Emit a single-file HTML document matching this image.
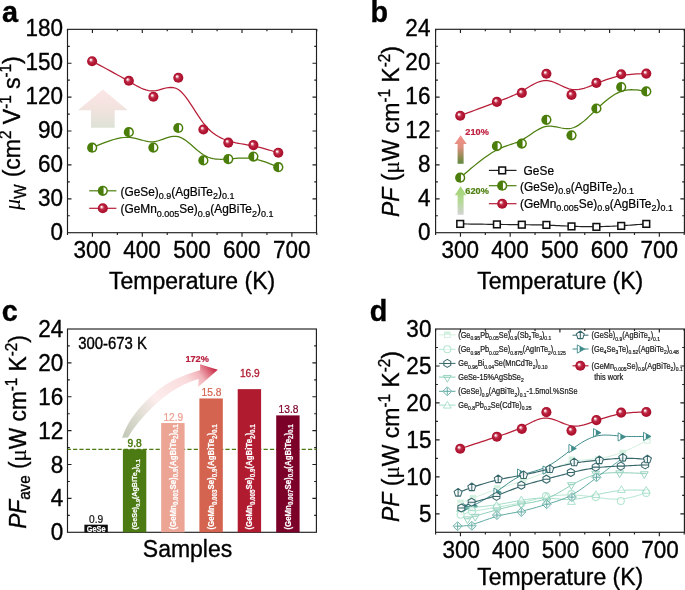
<!DOCTYPE html>
<html lang="en">
<head>
<meta charset="utf-8">
<title>Figure</title>
<style>
html, body { margin: 0; padding: 0; background: #ffffff; }
body { width: 685px; height: 590px; overflow: hidden; }
svg { display: block; font-family: "Liberation Sans", Arial, Helvetica, sans-serif; }
</style>
</head>
<body>
<svg width="685" height="590" viewBox="0 0 685 590">
<defs>
<radialGradient id="sph" cx="0.5" cy="0.5" r="0.5" fx="0.35" fy="0.34">
<stop offset="0" stop-color="#ffffff"/><stop offset="0.1" stop-color="#fdeef0"/><stop offset="0.24" stop-color="#e398a5"/><stop offset="0.42" stop-color="#bf2c48"/><stop offset="0.7" stop-color="#b21632"/><stop offset="1" stop-color="#a90f2c"/></radialGradient>
<linearGradient id="ga" x1="0" y1="0" x2="0" y2="1"><stop offset="0" stop-color="#fbe6e6"/><stop offset="0.45" stop-color="#f3e3df"/><stop offset="1" stop-color="#dee2d6"/></linearGradient>
<linearGradient id="gb1" x1="0" y1="0" x2="0" y2="1"><stop offset="0" stop-color="#f58f8a"/><stop offset="0.4" stop-color="#e0907f"/><stop offset="1" stop-color="#5d8a3a"/></linearGradient>
<linearGradient id="gb2" x1="0" y1="0" x2="0" y2="1"><stop offset="0" stop-color="#9fd36f"/><stop offset="0.5" stop-color="#b4da94"/><stop offset="1" stop-color="#d2d2d2"/></linearGradient>
<linearGradient id="gc" gradientUnits="userSpaceOnUse" x1="124" y1="438" x2="217" y2="369"><stop offset="0" stop-color="#c2c9b8"/><stop offset="0.2" stop-color="#dcdbd0"/><stop offset="0.42" stop-color="#fcedec"/><stop offset="0.74" stop-color="#fadbdd"/><stop offset="0.85" stop-color="#f1b5bb"/><stop offset="0.93" stop-color="#dc6678"/><stop offset="1" stop-color="#c01d3a"/></linearGradient>
</defs>
<rect x="0" y="0" width="685" height="590" fill="#ffffff"/>
<rect x="67.5" y="29.35" width="249" height="203.35" fill="none" stroke="#1f1f1f" stroke-width="1.15"/>
<path d="M92.43 232.7 v4.0 M92.43 29.35 v3.6 M142.29 232.7 v4.0 M142.29 29.35 v3.6 M192.15 232.7 v4.0 M192.15 29.35 v3.6 M242.01 232.7 v4.0 M242.01 29.35 v3.6 M291.87 232.7 v4.0 M291.87 29.35 v3.6 M67.5 232.7 v2.2 M67.5 29.35 v2.0 M117.36 232.7 v2.2 M117.36 29.35 v2.0 M167.22 232.7 v2.2 M167.22 29.35 v2.0 M217.08 232.7 v2.2 M217.08 29.35 v2.0 M266.94 232.7 v2.2 M266.94 29.35 v2.0 M316.8 232.7 v2.2 M316.8 29.35 v2.0 M67.5 198.81 h4.0 M316.5 198.81 h-4.0 M67.5 164.92 h4.0 M316.5 164.92 h-4.0 M67.5 131.02 h4.0 M316.5 131.02 h-4.0 M67.5 97.13 h4.0 M316.5 97.13 h-4.0 M67.5 63.24 h4.0 M316.5 63.24 h-4.0 M67.5 215.75 h2.3 M316.5 215.75 h-2.2 M67.5 181.86 h2.3 M316.5 181.86 h-2.2 M67.5 147.97 h2.3 M316.5 147.97 h-2.2 M67.5 114.08 h2.3 M316.5 114.08 h-2.2 M67.5 80.19 h2.3 M316.5 80.19 h-2.2 M67.5 46.3 h2.3 M316.5 46.3 h-2.2" fill="none" stroke="#1f1f1f" stroke-width="1.15"/>
<text transform="translate(63.1 239.7) scale(1 1.03)" font-size="22.5" text-anchor="end" stroke="#000" stroke-width="0.35" >0</text>
<text transform="translate(63.1 205.81) scale(1 1.03)" font-size="22.5" text-anchor="end" stroke="#000" stroke-width="0.35" >30</text>
<text transform="translate(63.1 171.92) scale(1 1.03)" font-size="22.5" text-anchor="end" stroke="#000" stroke-width="0.35" >60</text>
<text transform="translate(63.1 138.02) scale(1 1.03)" font-size="22.5" text-anchor="end" stroke="#000" stroke-width="0.35" >90</text>
<text transform="translate(63.1 104.13) scale(1 1.03)" font-size="22.5" text-anchor="end" stroke="#000" stroke-width="0.35" >120</text>
<text transform="translate(63.1 70.24) scale(1 1.03)" font-size="22.5" text-anchor="end" stroke="#000" stroke-width="0.35" >150</text>
<text transform="translate(63.1 36.35) scale(1 1.03)" font-size="22.5" text-anchor="end" stroke="#000" stroke-width="0.35" >180</text>
<text transform="translate(92.23 257.5) scale(1 1.03)" font-size="22.5" text-anchor="middle" stroke="#000" stroke-width="0.35" >300</text>
<text transform="translate(142.09 257.5) scale(1 1.03)" font-size="22.5" text-anchor="middle" stroke="#000" stroke-width="0.35" >400</text>
<text transform="translate(191.95 257.5) scale(1 1.03)" font-size="22.5" text-anchor="middle" stroke="#000" stroke-width="0.35" >500</text>
<text transform="translate(241.81 257.5) scale(1 1.03)" font-size="22.5" text-anchor="middle" stroke="#000" stroke-width="0.35" >600</text>
<text transform="translate(291.67 257.5) scale(1 1.03)" font-size="22.5" text-anchor="middle" stroke="#000" stroke-width="0.35" >700</text>
<text transform="translate(192.1 289.4) scale(1 1.03)" font-size="23.0" text-anchor="middle" stroke="#000" stroke-width="0.35" >Temperature (K)</text>
<text transform="translate(20.2 133.1) rotate(-90) scale(1 1.03)" font-size="23.0" text-anchor="middle" stroke="#000" stroke-width="0.35" ><tspan font-style="italic" font-family='"Liberation Serif", "DejaVu Serif", serif' font-size="22" stroke="none">&#956;</tspan><tspan font-size="15.2" dy="5.4">W</tspan><tspan dy="-5.4" dx="0.8"> (cm</tspan><tspan font-size="15.2" dy="-8.5">2</tspan><tspan dy="8.5"> V</tspan><tspan font-size="15.2" dy="-8.5">-1</tspan><tspan dy="8.5"> s</tspan><tspan font-size="15.2" dy="-8.5">-1</tspan><tspan dy="8.5">)</tspan></text>
<text transform="translate(1.9 21.7) scale(1 1.03)" font-size="28.8" font-weight="bold" stroke="#000" stroke-width="0.35" >a</text>
<path d="M102.9 89.6 L127.8 110.3 L114.7 110.3 L114.7 127.8 L91 127.8 L91 110.3 L78 110.3 Z" fill="url(#ga)"/>
<path d="M92.2 147.7 L95.86 146.16 L99.51 144.64 L103.14 143.19 L106.73 141.83 L110.27 140.59 L113.75 139.51 L117.16 138.62 L120.49 137.94 L123.71 137.5 L126.83 137.35 L129.83 137.49 L132.73 137.87 L135.52 138.43 L138.24 139.1 L140.88 139.81 L143.46 140.51 L146 141.12 L148.5 141.57 L150.99 141.81 L153.46 141.77 L155.93 141.4 L158.41 140.76 L160.89 139.95 L163.37 139.05 L165.86 138.15 L168.35 137.34 L170.84 136.7 L173.34 136.31 L175.83 136.27 L178.33 136.67 L180.83 137.55 L183.34 138.87 L185.84 140.54 L188.35 142.47 L190.85 144.58 L193.35 146.78 L195.86 148.99 L198.36 151.11 L200.87 153.07 L203.37 154.78 L205.87 156.18 L208.36 157.26 L210.86 158.08 L213.35 158.65 L215.85 159.02 L218.35 159.22 L220.84 159.27 L223.34 159.21 L225.83 159.08 L228.33 158.9 L230.83 158.71 L233.34 158.52 L235.84 158.34 L238.35 158.2 L240.85 158.1 L243.35 158.06 L245.86 158.09 L248.36 158.22 L250.87 158.44 L253.37 158.78 L255.87 159.25 L258.36 159.84 L260.86 160.53 L263.35 161.31 L265.85 162.17 L268.34 163.1 L270.83 164.08 L273.32 165.1 L275.81 166.14 L278.3 167.2" fill="none" stroke="#4d7f0e" stroke-width="1.25"/>
<circle cx="92.2" cy="147.7" r="5.1" fill="#4a7d0a"/>
<path d="M92.95 144.18 A3.6 3.6 0 0 1 92.95 151.22 Z" fill="#fff"/>
<circle cx="128.85" cy="132.2" r="5.1" fill="#4a7d0a"/>
<path d="M129.6 128.68 A3.6 3.6 0 0 1 129.6 135.72 Z" fill="#fff"/>
<circle cx="153.4" cy="147.6" r="5.1" fill="#4a7d0a"/>
<path d="M154.15 144.08 A3.6 3.6 0 0 1 154.15 151.12 Z" fill="#fff"/>
<circle cx="178.3" cy="128" r="5.1" fill="#4a7d0a"/>
<path d="M179.05 124.48 A3.6 3.6 0 0 1 179.05 131.52 Z" fill="#fff"/>
<circle cx="203.4" cy="160.4" r="5.1" fill="#4a7d0a"/>
<path d="M204.15 156.88 A3.6 3.6 0 0 1 204.15 163.92 Z" fill="#fff"/>
<circle cx="228.3" cy="159.1" r="5.1" fill="#4a7d0a"/>
<path d="M229.05 155.58 A3.6 3.6 0 0 1 229.05 162.62 Z" fill="#fff"/>
<circle cx="253.4" cy="156.6" r="5.1" fill="#4a7d0a"/>
<path d="M254.15 153.08 A3.6 3.6 0 0 1 254.15 160.12 Z" fill="#fff"/>
<circle cx="278.3" cy="167.2" r="5.1" fill="#4a7d0a"/>
<path d="M279.05 163.68 A3.6 3.6 0 0 1 279.05 170.72 Z" fill="#fff"/>
<path d="M92.1 61.2 L95.77 63.16 L99.43 65.12 L103.07 67.06 L106.67 69 L110.22 70.92 L113.71 72.83 L117.13 74.71 L120.46 76.56 L123.69 78.39 L126.82 80.18 L129.82 81.93 L132.72 83.62 L135.52 85.2 L138.23 86.66 L140.88 87.95 L143.46 89.05 L146 89.92 L148.5 90.55 L150.99 90.88 L153.46 90.9 L155.93 90.59 L158.41 90.04 L160.89 89.36 L163.37 88.64 L165.86 88 L168.35 87.53 L170.84 87.35 L173.34 87.56 L175.83 88.26 L178.33 89.57 L180.83 91.54 L183.34 94.11 L185.84 97.17 L188.35 100.61 L190.85 104.32 L193.35 108.18 L195.86 112.1 L198.36 115.96 L200.87 119.65 L203.37 123.07 L205.87 126.12 L208.36 128.81 L210.86 131.18 L213.35 133.24 L215.85 135.03 L218.35 136.57 L220.84 137.89 L223.34 139.02 L225.83 140 L228.33 140.83 L230.83 141.56 L233.34 142.2 L235.84 142.77 L238.35 143.27 L240.85 143.74 L243.35 144.17 L245.86 144.6 L248.36 145.03 L250.87 145.48 L253.37 145.97 L255.87 146.5 L258.36 147.08 L260.86 147.71 L263.35 148.37 L265.85 149.06 L268.34 149.78 L270.83 150.51 L273.32 151.27 L275.81 152.03 L278.3 152.8" fill="none" stroke="#b71e38" stroke-width="1.25"/>
<circle cx="92.1" cy="61.2" r="5.05" fill="url(#sph)"/>
<circle cx="128.85" cy="80.8" r="5.05" fill="url(#sph)"/>
<circle cx="153.4" cy="96.7" r="5.05" fill="url(#sph)"/>
<circle cx="178.3" cy="77.8" r="5.05" fill="url(#sph)"/>
<circle cx="203.4" cy="129.5" r="5.05" fill="url(#sph)"/>
<circle cx="228.3" cy="142.6" r="5.05" fill="url(#sph)"/>
<circle cx="253.4" cy="145.1" r="5.05" fill="url(#sph)"/>
<circle cx="278.3" cy="152.8" r="5.05" fill="url(#sph)"/>
<line x1="89.2" y1="190.8" x2="116.4" y2="190.8" stroke="#4d7f0e" stroke-width="1.2" />
<circle cx="102.8" cy="190.8" r="5.1" fill="#4a7d0a"/>
<path d="M103.55 187.28 A3.6 3.6 0 0 1 103.55 194.32 Z" fill="#fff"/>
<line x1="89.2" y1="208.3" x2="116.4" y2="208.3" stroke="#b71e38" stroke-width="1.2" />
<circle cx="102.8" cy="208.3" r="5.05" fill="url(#sph)"/>
<text transform="translate(120.5 195.5) scale(1 1.03)" font-size="11.9" stroke="#000" stroke-width="0.21" >(GeSe)<tspan font-size="9.0" dy="3.3">0.9</tspan><tspan dy="-3.3">(AgBiTe</tspan><tspan font-size="9.0" dy="3.3">2</tspan><tspan dy="-3.3">)</tspan><tspan font-size="9.0" dy="3.3">0.1</tspan></text>
<text transform="translate(120.5 213.1) scale(1 1.03)" font-size="11.9" stroke="#000" stroke-width="0.21" >(GeMn<tspan font-size="9.0" dy="3.3">0.005</tspan><tspan dy="-3.3">Se)</tspan><tspan font-size="9.0" dy="3.3">0.9</tspan><tspan dy="-3.3">(AgBiTe</tspan><tspan font-size="9.0" dy="3.3">2</tspan><tspan dy="-3.3">)</tspan><tspan font-size="9.0" dy="3.3">0.1</tspan></text>
<rect x="435.6" y="29.3" width="248.8" height="203.4" fill="none" stroke="#1f1f1f" stroke-width="1.15"/>
<path d="M460.46 232.7 v4.0 M460.46 29.3 v3.6 M510.18 232.7 v4.0 M510.18 29.3 v3.6 M559.9 232.7 v4.0 M559.9 29.3 v3.6 M609.62 232.7 v4.0 M609.62 29.3 v3.6 M659.34 232.7 v4.0 M659.34 29.3 v3.6 M435.6 232.7 v2.2 M435.6 29.3 v2.0 M485.32 232.7 v2.2 M485.32 29.3 v2.0 M535.04 232.7 v2.2 M535.04 29.3 v2.0 M584.76 232.7 v2.2 M584.76 29.3 v2.0 M634.48 232.7 v2.2 M634.48 29.3 v2.0 M684.2 232.7 v2.2 M684.2 29.3 v2.0 M435.6 198.8 h4.0 M684.4 198.8 h-4.0 M435.6 164.9 h4.0 M684.4 164.9 h-4.0 M435.6 131 h4.0 M684.4 131 h-4.0 M435.6 97.1 h4.0 M684.4 97.1 h-4.0 M435.6 63.2 h4.0 M684.4 63.2 h-4.0 M435.6 215.75 h2.3 M684.4 215.75 h-2.2 M435.6 181.85 h2.3 M684.4 181.85 h-2.2 M435.6 147.95 h2.3 M684.4 147.95 h-2.2 M435.6 114.05 h2.3 M684.4 114.05 h-2.2 M435.6 80.15 h2.3 M684.4 80.15 h-2.2 M435.6 46.25 h2.3 M684.4 46.25 h-2.2" fill="none" stroke="#1f1f1f" stroke-width="1.15"/>
<text transform="translate(430.4 239.7) scale(1 1.03)" font-size="22.5" text-anchor="end" stroke="#000" stroke-width="0.35" >0</text>
<text transform="translate(430.4 205.8) scale(1 1.03)" font-size="22.5" text-anchor="end" stroke="#000" stroke-width="0.35" >4</text>
<text transform="translate(430.4 171.9) scale(1 1.03)" font-size="22.5" text-anchor="end" stroke="#000" stroke-width="0.35" >8</text>
<text transform="translate(430.4 138) scale(1 1.03)" font-size="22.5" text-anchor="end" stroke="#000" stroke-width="0.35" >12</text>
<text transform="translate(430.4 104.1) scale(1 1.03)" font-size="22.5" text-anchor="end" stroke="#000" stroke-width="0.35" >16</text>
<text transform="translate(430.4 70.2) scale(1 1.03)" font-size="22.5" text-anchor="end" stroke="#000" stroke-width="0.35" >20</text>
<text transform="translate(430.4 36.3) scale(1 1.03)" font-size="22.5" text-anchor="end" stroke="#000" stroke-width="0.35" >24</text>
<text transform="translate(460.26 257.5) scale(1 1.03)" font-size="22.5" text-anchor="middle" stroke="#000" stroke-width="0.35" >300</text>
<text transform="translate(509.98 257.5) scale(1 1.03)" font-size="22.5" text-anchor="middle" stroke="#000" stroke-width="0.35" >400</text>
<text transform="translate(559.7 257.5) scale(1 1.03)" font-size="22.5" text-anchor="middle" stroke="#000" stroke-width="0.35" >500</text>
<text transform="translate(609.42 257.5) scale(1 1.03)" font-size="22.5" text-anchor="middle" stroke="#000" stroke-width="0.35" >600</text>
<text transform="translate(659.14 257.5) scale(1 1.03)" font-size="22.5" text-anchor="middle" stroke="#000" stroke-width="0.35" >700</text>
<text transform="translate(560.2 289.4) scale(1 1.03)" font-size="23.0" text-anchor="middle" stroke="#000" stroke-width="0.35" >Temperature (K)</text>
<text transform="translate(399 131.6) rotate(-90) scale(1 1.03)" font-size="23.0" text-anchor="middle" stroke="#000" stroke-width="0.35" ><tspan font-style="italic">PF</tspan> (<tspan font-family='"Liberation Serif", "DejaVu Serif", serif' font-size="23" stroke-width="0.15">&#956;</tspan>W cm<tspan font-size="15.2" dy="-8.5">-1</tspan><tspan dy="8.5"> K</tspan><tspan font-size="15.2" dy="-8.5">-2</tspan><tspan dy="8.5">)</tspan></text>
<text transform="translate(370.4 21.7) scale(1 1.03)" font-size="28.8" font-weight="bold" stroke="#000" stroke-width="0.35" >b</text>
<path d="M460.6 135.3 L466.7 144 L463.6 144 L463.6 163.8 L457.6 163.8 L457.6 144 L454.5 144 Z" fill="url(#gb1)"/>
<path d="M460.6 186.2 L466.4 195.2 L463.6 195.2 L463.6 214.7 L457.6 214.7 L457.6 195.2 L454.8 195.2 Z" fill="url(#gb2)"/>
<text transform="translate(465.3 135.4) scale(1 1.03)" font-size="9.2" fill="#c0203f" font-weight="bold" stroke="#c0203f" stroke-width="0.21" >210%</text>
<text transform="translate(465.3 194) scale(1 1.03)" font-size="9.2" fill="#4f8012" font-weight="bold" stroke="#4f8012" stroke-width="0.21" >620%</text>
<path d="M460.2 223.9 L463.87 223.95 L467.52 224 L471.16 224.05 L474.75 224.1 L478.3 224.15 L481.8 224.19 L485.22 224.24 L488.55 224.28 L491.8 224.33 L494.93 224.37 L497.96 224.41 L500.87 224.44 L503.69 224.48 L506.43 224.51 L509.1 224.54 L511.7 224.57 L514.26 224.6 L516.78 224.63 L519.27 224.66 L521.75 224.68 L524.22 224.71 L526.7 224.73 L529.17 224.76 L531.63 224.79 L534.1 224.83 L536.57 224.87 L539.05 224.91 L541.52 224.97 L544 225.04 L546.48 225.12 L548.97 225.21 L551.46 225.31 L553.96 225.42 L556.46 225.54 L558.96 225.66 L561.46 225.78 L563.96 225.9 L566.46 226.02 L568.97 226.13 L571.47 226.23 L573.97 226.33 L576.46 226.41 L578.96 226.49 L581.45 226.55 L583.94 226.6 L586.43 226.64 L588.92 226.66 L591.41 226.67 L593.9 226.67 L596.38 226.65 L598.87 226.62 L601.35 226.57 L603.84 226.51 L606.32 226.44 L608.8 226.35 L611.29 226.25 L613.78 226.14 L616.27 226.01 L618.76 225.88 L621.25 225.73 L623.75 225.58 L626.25 225.41 L628.75 225.24 L631.25 225.06 L633.76 224.88 L636.26 224.69 L638.77 224.5 L641.28 224.3 L643.79 224.1 L646.3 223.9" fill="none" stroke="#222" stroke-width="1.2"/>
<rect x="456.85" y="220.55" width="6.7" height="6.7" fill="#fff" stroke="#111" stroke-width="1.55"/>
<rect x="493.55" y="221.05" width="6.7" height="6.7" fill="#fff" stroke="#111" stroke-width="1.55"/>
<rect x="518.45" y="221.35" width="6.7" height="6.7" fill="#fff" stroke="#111" stroke-width="1.55"/>
<rect x="543.05" y="221.55" width="6.7" height="6.7" fill="#fff" stroke="#111" stroke-width="1.55"/>
<rect x="568.15" y="223.05" width="6.7" height="6.7" fill="#fff" stroke="#111" stroke-width="1.55"/>
<rect x="593.05" y="223.55" width="6.7" height="6.7" fill="#fff" stroke="#111" stroke-width="1.55"/>
<rect x="617.85" y="222.55" width="6.7" height="6.7" fill="#fff" stroke="#111" stroke-width="1.55"/>
<rect x="642.95" y="220.55" width="6.7" height="6.7" fill="#fff" stroke="#111" stroke-width="1.55"/>
<path d="M460.2 177.7 L463.87 174.54 L467.52 171.42 L471.16 168.35 L474.75 165.37 L478.3 162.51 L481.8 159.79 L485.22 157.24 L488.55 154.9 L491.8 152.8 L494.93 150.95 L497.96 149.38 L500.87 148.05 L503.69 146.92 L506.43 145.92 L509.1 145.01 L511.7 144.14 L514.26 143.26 L516.78 142.32 L519.27 141.27 L521.75 140.05 L524.22 138.64 L526.7 137.07 L529.17 135.42 L531.63 133.73 L534.1 132.08 L536.57 130.51 L539.05 129.09 L541.52 127.89 L544 126.95 L546.48 126.35 L548.97 126.12 L551.46 126.2 L553.96 126.51 L556.46 126.96 L558.96 127.49 L561.46 128 L563.96 128.41 L566.46 128.64 L568.97 128.62 L571.47 128.25 L573.97 127.48 L576.46 126.34 L578.96 124.87 L581.45 123.11 L583.94 121.13 L586.43 118.96 L588.92 116.66 L591.41 114.26 L593.9 111.83 L596.38 109.4 L598.87 107.02 L601.35 104.72 L603.84 102.5 L606.32 100.41 L608.8 98.45 L611.29 96.64 L613.78 95.01 L616.27 93.58 L618.76 92.36 L621.25 91.38 L623.75 90.65 L626.25 90.15 L628.75 89.86 L631.25 89.75 L633.76 89.79 L636.26 89.95 L638.77 90.23 L641.28 90.57 L643.79 90.97 L646.3 91.4" fill="none" stroke="#4d7f0e" stroke-width="1.25"/>
<circle cx="460.2" cy="177.7" r="5.1" fill="#4a7d0a"/>
<path d="M460.95 174.18 A3.6 3.6 0 0 1 460.95 181.22 Z" fill="#fff"/>
<circle cx="496.9" cy="146.1" r="5.1" fill="#4a7d0a"/>
<path d="M497.65 142.58 A3.6 3.6 0 0 1 497.65 149.62 Z" fill="#fff"/>
<circle cx="521.8" cy="143.6" r="5.1" fill="#4a7d0a"/>
<path d="M522.55 140.08 A3.6 3.6 0 0 1 522.55 147.12 Z" fill="#fff"/>
<circle cx="546.4" cy="119.8" r="5.1" fill="#4a7d0a"/>
<path d="M547.15 116.28 A3.6 3.6 0 0 1 547.15 123.32 Z" fill="#fff"/>
<circle cx="571.5" cy="135.3" r="5.1" fill="#4a7d0a"/>
<path d="M572.25 131.78 A3.6 3.6 0 0 1 572.25 138.82 Z" fill="#fff"/>
<circle cx="596.4" cy="108.5" r="5.1" fill="#4a7d0a"/>
<path d="M597.15 104.98 A3.6 3.6 0 0 1 597.15 112.02 Z" fill="#fff"/>
<circle cx="621.2" cy="87.1" r="5.1" fill="#4a7d0a"/>
<path d="M621.95 83.58 A3.6 3.6 0 0 1 621.95 90.62 Z" fill="#fff"/>
<circle cx="646.3" cy="91.4" r="5.1" fill="#4a7d0a"/>
<path d="M647.05 87.88 A3.6 3.6 0 0 1 647.05 94.92 Z" fill="#fff"/>
<path d="M460.2 115.7 L463.87 114.32 L467.52 112.95 L471.16 111.58 L474.75 110.23 L478.3 108.9 L481.8 107.59 L485.22 106.31 L488.55 105.07 L491.8 103.86 L494.93 102.7 L497.96 101.58 L500.87 100.5 L503.69 99.43 L506.43 98.37 L509.1 97.29 L511.7 96.19 L514.26 95.04 L516.78 93.84 L519.27 92.57 L521.75 91.22 L524.22 89.77 L526.7 88.27 L529.17 86.77 L531.63 85.33 L534.1 83.98 L536.57 82.78 L539.05 81.78 L541.52 81.04 L544 80.59 L546.48 80.5 L548.97 80.79 L551.46 81.41 L553.96 82.28 L556.46 83.33 L558.96 84.5 L561.46 85.7 L563.96 86.86 L566.46 87.91 L568.97 88.78 L571.47 89.38 L573.97 89.68 L576.46 89.68 L578.96 89.42 L581.45 88.94 L583.94 88.28 L586.43 87.47 L588.92 86.55 L591.41 85.55 L593.9 84.51 L596.38 83.47 L598.87 82.45 L601.35 81.48 L603.84 80.55 L606.32 79.67 L608.8 78.84 L611.29 78.06 L613.78 77.35 L616.27 76.7 L618.76 76.12 L621.25 75.62 L623.75 75.19 L626.25 74.83 L628.75 74.54 L631.25 74.3 L633.76 74.11 L636.26 73.96 L638.77 73.85 L641.28 73.75 L643.79 73.67 L646.3 73.6" fill="none" stroke="#b71e38" stroke-width="1.25"/>
<circle cx="460.2" cy="115.7" r="5.05" fill="url(#sph)"/>
<circle cx="496.9" cy="101.9" r="5.05" fill="url(#sph)"/>
<circle cx="521.8" cy="92.9" r="5.05" fill="url(#sph)"/>
<circle cx="546.4" cy="73.8" r="5.05" fill="url(#sph)"/>
<circle cx="571.5" cy="94.9" r="5.05" fill="url(#sph)"/>
<circle cx="596.4" cy="82.9" r="5.05" fill="url(#sph)"/>
<circle cx="621.2" cy="74.3" r="5.05" fill="url(#sph)"/>
<circle cx="646.3" cy="73.6" r="5.05" fill="url(#sph)"/>
<line x1="488.9" y1="170.4" x2="516.5" y2="170.4" stroke="#222" stroke-width="1.2" />
<rect x="498.85" y="167.05" width="6.7" height="6.7" fill="#fff" stroke="#111" stroke-width="1.55"/>
<line x1="488.9" y1="185.7" x2="516.5" y2="185.7" stroke="#4d7f0e" stroke-width="1.2" />
<circle cx="502.2" cy="185.7" r="5.1" fill="#4a7d0a"/>
<path d="M502.95 182.18 A3.6 3.6 0 0 1 502.95 189.22 Z" fill="#fff"/>
<line x1="488.9" y1="203.7" x2="516.5" y2="203.7" stroke="#b71e38" stroke-width="1.2" />
<circle cx="502.2" cy="203.7" r="5.05" fill="url(#sph)"/>
<text transform="translate(523.6 175) scale(1 1.03)" font-size="11.9" stroke="#000" stroke-width="0.21" >GeSe</text>
<text transform="translate(520 190.6) scale(1 1.03)" font-size="11.9" stroke="#000" stroke-width="0.21" >(GeSe)<tspan font-size="9.0" dy="3.3">0.9</tspan><tspan dy="-3.3">(AgBiTe</tspan><tspan font-size="9.0" dy="3.3">2</tspan><tspan dy="-3.3">)</tspan><tspan font-size="9.0" dy="3.3">0.1</tspan></text>
<text transform="translate(520 208) scale(1 1.03)" font-size="11.9" stroke="#000" stroke-width="0.21" >(GeMn<tspan font-size="9.0" dy="3.3">0.005</tspan><tspan dy="-3.3">Se)</tspan><tspan font-size="9.0" dy="3.3">0.9</tspan><tspan dy="-3.3">(AgBiTe</tspan><tspan font-size="9.0" dy="3.3">2</tspan><tspan dy="-3.3">)</tspan><tspan font-size="9.0" dy="3.3">0.1</tspan></text>
<rect x="67.5" y="329" width="248.9" height="203.3" fill="none" stroke="#1f1f1f" stroke-width="1.15"/>
<path d="M67.5 498.42 h4.0 M316.4 498.42 h-4.0 M67.5 464.53 h4.0 M316.4 464.53 h-4.0 M67.5 430.65 h4.0 M316.4 430.65 h-4.0 M67.5 396.77 h4.0 M316.4 396.77 h-4.0 M67.5 362.88 h4.0 M316.4 362.88 h-4.0 M67.5 515.36 h2.3 M316.4 515.36 h-2.2 M67.5 481.47 h2.3 M316.4 481.47 h-2.2 M67.5 447.59 h2.3 M316.4 447.59 h-2.2 M67.5 413.71 h2.3 M316.4 413.71 h-2.2 M67.5 379.82 h2.3 M316.4 379.82 h-2.2 M67.5 345.94 h2.3 M316.4 345.94 h-2.2" fill="none" stroke="#1f1f1f" stroke-width="1.15"/>
<text transform="translate(63.2 540.3) scale(1 1.03)" font-size="22.5" text-anchor="end" stroke="#000" stroke-width="0.35" >0</text>
<text transform="translate(63.2 506.42) scale(1 1.03)" font-size="22.5" text-anchor="end" stroke="#000" stroke-width="0.35" >4</text>
<text transform="translate(63.2 472.53) scale(1 1.03)" font-size="22.5" text-anchor="end" stroke="#000" stroke-width="0.35" >8</text>
<text transform="translate(63.2 438.65) scale(1 1.03)" font-size="22.5" text-anchor="end" stroke="#000" stroke-width="0.35" >12</text>
<text transform="translate(63.2 404.77) scale(1 1.03)" font-size="22.5" text-anchor="end" stroke="#000" stroke-width="0.35" >16</text>
<text transform="translate(63.2 370.88) scale(1 1.03)" font-size="22.5" text-anchor="end" stroke="#000" stroke-width="0.35" >20</text>
<text transform="translate(63.2 337) scale(1 1.03)" font-size="22.5" text-anchor="end" stroke="#000" stroke-width="0.35" >24</text>
<text transform="translate(25.6 432) rotate(-90) scale(1 1.03)" font-size="22.7" text-anchor="middle" stroke="#000" stroke-width="0.35" ><tspan font-style="italic">PF</tspan><tspan font-size="15.2" dy="4.3">ave</tspan><tspan dy="-4.3"> (</tspan><tspan font-family='"Liberation Serif", "DejaVu Serif", serif' font-size="23" stroke-width="0.15">&#956;</tspan>W cm<tspan font-size="15.2" dy="-8.5">-1</tspan><tspan dy="8.5"> K</tspan><tspan font-size="15.2" dy="-8.5">-2</tspan><tspan dy="8.5">)</tspan></text>
<text transform="translate(1.7 321.2) scale(1 1.03)" font-size="28.8" font-weight="bold" stroke="#000" stroke-width="0.35" >c</text>
<text transform="translate(187.5 556.8) scale(1 1.03)" font-size="23.0" text-anchor="middle" stroke="#000" stroke-width="0.35" >Samples</text>
<text transform="translate(78.2 349.1) scale(1 1.05)" font-size="14.9" stroke="#000" stroke-width="0.35" >300-673 K</text>
<path d="M122.2 437.7 L123.77 433.25 L125.62 428.96 L127.73 424.81 L130.07 420.81 L132.63 416.94 L135.38 413.19 L138.29 409.56 L141.35 406.04 L144.54 402.61 L147.82 399.28 L151.19 396.05 L154.66 392.93 L158.25 389.96 L161.96 387.17 L165.82 384.57 L169.81 382.18 L173.92 379.99 L178.13 377.97 L182.43 376.14 L186.79 374.46 L191.2 372.93 L195.65 371.55 L200.1 370.3 L200.1 364.3 L217.8 369.8 L198.2 387.1 L198.6 379 L194.72 380.23 L190.9 381.62 L187.14 383.17 L183.44 384.87 L179.81 386.72 L176.26 388.72 L172.8 390.85 L169.42 393.12 L166.14 395.51 L162.93 398.02 L159.8 400.62 L156.74 403.31 L153.74 406.06 L150.8 408.88 L147.93 411.77 L145.12 414.72 L142.4 417.73 L139.75 420.82 L137.2 423.99 L134.74 427.22 L132.39 430.54 L130.14 433.93 L128 437.4 Z" fill="url(#gc)"/>
<text transform="translate(185.4 361.5) scale(1 1.03)" font-size="9.2" fill="#b81c3c" font-weight="bold" stroke="#b81c3c" stroke-width="0.21" >172%</text>
<line x1="67.5" y1="449.4" x2="316.4" y2="449.4" stroke="#4a7a10" stroke-width="1.25" stroke-dasharray="4.2 2.15" stroke-dashoffset="0.8"/>
<rect x="84.4" y="524.68" width="23.4" height="7.62" fill="#0d0d0d"/>
<rect x="122.9" y="449.29" width="23.4" height="83.01" fill="#4b7b12"/>
<rect x="161.2" y="423.03" width="23.4" height="109.27" fill="#eca595"/>
<rect x="199.4" y="398.46" width="23.4" height="133.84" fill="#d4634f"/>
<rect x="237.7" y="389.14" width="23.4" height="143.16" fill="#b01b30"/>
<rect x="276.2" y="415.4" width="23.4" height="116.9" fill="#7c0129"/>
<text transform="translate(96.2 523.1) scale(1 1.03)" font-size="10.2" text-anchor="middle" fill="#111" stroke="#111" stroke-width="0.21" >0.9</text>
<text transform="translate(134.7 447) scale(1 1.03)" font-size="10.2" text-anchor="middle" fill="#4a7a10" stroke="#4a7a10" stroke-width="0.45" >9.8</text>
<text transform="translate(173.3 420.5) scale(1 1.03)" font-size="10.2" text-anchor="middle" fill="#eda091" stroke="#eda091" stroke-width="0.21" >12.9</text>
<text transform="translate(211.5 395.5) scale(1 1.03)" font-size="10.2" text-anchor="middle" fill="#d4634f" stroke="#d4634f" stroke-width="0.21" >15.8</text>
<text transform="translate(249.8 377.3) scale(1 1.03)" font-size="10.2" text-anchor="middle" fill="#b01b30" stroke="#b01b30" stroke-width="0.3" >16.9</text>
<text transform="translate(288.5 412.6) scale(1 1.03)" font-size="10.2" text-anchor="middle" fill="#7c0129" stroke="#7c0129" stroke-width="0.21" >13.8</text>
<text transform="translate(96.1 531.6) scale(1 1.2)" font-size="7.4" text-anchor="middle" fill="#fff" font-weight="bold" stroke="#fff" stroke-width="0.15" >GeSe</text>
<text transform="translate(137.4 529.6) rotate(-90) scale(1 1.12)" font-size="7.1" fill="#fff" font-weight="bold" stroke="#fff" stroke-width="0.2" >(GeSe)<tspan font-size="5.6" dy="2.2">0.9</tspan><tspan dy="-2.2">(AgBiTe</tspan><tspan font-size="5.6" dy="2.2">2</tspan><tspan dy="-2.2">)</tspan><tspan font-size="5.6" dy="2.2">0.1</tspan></text>
<text transform="translate(175.6 529.6) rotate(-90) scale(1 1.12)" font-size="7.9" fill="#fff" font-weight="bold" stroke="#fff" stroke-width="0.2" >(GeMn<tspan font-size="6.2" dy="2.5">0.001</tspan><tspan dy="-2.5">Se)</tspan><tspan font-size="6.2" dy="2.5">0.9</tspan><tspan dy="-2.5">(AgBiTe</tspan><tspan font-size="6.2" dy="2.5">2</tspan><tspan dy="-2.5">)</tspan><tspan font-size="6.2" dy="2.5">0.1</tspan></text>
<text transform="translate(213.8 529.6) rotate(-90) scale(1 1.12)" font-size="7.9" fill="#fff" font-weight="bold" stroke="#fff" stroke-width="0.2" >(GeMn<tspan font-size="6.2" dy="2.5">0.003</tspan><tspan dy="-2.5">Se)</tspan><tspan font-size="6.2" dy="2.5">0.9</tspan><tspan dy="-2.5">(AgBiTe</tspan><tspan font-size="6.2" dy="2.5">2</tspan><tspan dy="-2.5">)</tspan><tspan font-size="6.2" dy="2.5">0.1</tspan></text>
<text transform="translate(252.1 529.6) rotate(-90) scale(1 1.12)" font-size="7.9" fill="#fff" font-weight="bold" stroke="#fff" stroke-width="0.2" >(GeMn<tspan font-size="6.2" dy="2.5">0.005</tspan><tspan dy="-2.5">Se)</tspan><tspan font-size="6.2" dy="2.5">0.9</tspan><tspan dy="-2.5">(AgBiTe</tspan><tspan font-size="6.2" dy="2.5">2</tspan><tspan dy="-2.5">)</tspan><tspan font-size="6.2" dy="2.5">0.1</tspan></text>
<text transform="translate(290.6 529.6) rotate(-90) scale(1 1.12)" font-size="7.9" fill="#fff" font-weight="bold" stroke="#fff" stroke-width="0.2" >(GeMn<tspan font-size="6.2" dy="2.5">0.007</tspan><tspan dy="-2.5">Se)</tspan><tspan font-size="6.2" dy="2.5">0.9</tspan><tspan dy="-2.5">(AgBiTe</tspan><tspan font-size="6.2" dy="2.5">2</tspan><tspan dy="-2.5">)</tspan><tspan font-size="6.2" dy="2.5">0.1</tspan></text>
<rect x="435.6" y="329" width="248.8" height="203.3" fill="none" stroke="#1f1f1f" stroke-width="1.15"/>
<path d="M460.46 532.3 v4.0 M460.46 329 v3.6 M510.18 532.3 v4.0 M510.18 329 v3.6 M559.9 532.3 v4.0 M559.9 329 v3.6 M609.62 532.3 v4.0 M609.62 329 v3.6 M659.34 532.3 v4.0 M659.34 329 v3.6 M435.6 532.3 v2.2 M435.6 329 v2.0 M485.32 532.3 v2.2 M485.32 329 v2.0 M535.04 532.3 v2.2 M535.04 329 v2.0 M584.76 532.3 v2.2 M584.76 329 v2.0 M634.48 532.3 v2.2 M634.48 329 v2.0 M684.2 532.3 v2.2 M684.2 329 v2.0 M435.6 513.82 h4.0 M684.4 513.82 h-4.0 M435.6 476.85 h4.0 M684.4 476.85 h-4.0 M435.6 439.89 h4.0 M684.4 439.89 h-4.0 M435.6 402.93 h4.0 M684.4 402.93 h-4.0 M435.6 365.96 h4.0 M684.4 365.96 h-4.0 M435.6 495.34 h2.3 M684.4 495.34 h-2.2 M435.6 458.37 h2.3 M684.4 458.37 h-2.2 M435.6 421.41 h2.3 M684.4 421.41 h-2.2 M435.6 384.45 h2.3 M684.4 384.45 h-2.2 M435.6 347.48 h2.3 M684.4 347.48 h-2.2" fill="none" stroke="#1f1f1f" stroke-width="1.15"/>
<text transform="translate(431.4 521.82) scale(1 1.03)" font-size="22.5" text-anchor="end" stroke="#000" stroke-width="0.35" >5</text>
<text transform="translate(431.4 484.85) scale(1 1.03)" font-size="22.5" text-anchor="end" stroke="#000" stroke-width="0.35" >10</text>
<text transform="translate(431.4 447.89) scale(1 1.03)" font-size="22.5" text-anchor="end" stroke="#000" stroke-width="0.35" >15</text>
<text transform="translate(431.4 410.93) scale(1 1.03)" font-size="22.5" text-anchor="end" stroke="#000" stroke-width="0.35" >20</text>
<text transform="translate(431.4 373.96) scale(1 1.03)" font-size="22.5" text-anchor="end" stroke="#000" stroke-width="0.35" >25</text>
<text transform="translate(431.4 337) scale(1 1.03)" font-size="22.5" text-anchor="end" stroke="#000" stroke-width="0.35" >30</text>
<text transform="translate(461.16 558) scale(1 1.03)" font-size="22.5" text-anchor="middle" stroke="#000" stroke-width="0.35" >300</text>
<text transform="translate(510.88 558) scale(1 1.03)" font-size="22.5" text-anchor="middle" stroke="#000" stroke-width="0.35" >400</text>
<text transform="translate(560.6 558) scale(1 1.03)" font-size="22.5" text-anchor="middle" stroke="#000" stroke-width="0.35" >500</text>
<text transform="translate(610.32 558) scale(1 1.03)" font-size="22.5" text-anchor="middle" stroke="#000" stroke-width="0.35" >600</text>
<text transform="translate(660.04 558) scale(1 1.03)" font-size="22.5" text-anchor="middle" stroke="#000" stroke-width="0.35" >700</text>
<text transform="translate(560.2 584.9) scale(1 1.03)" font-size="23.0" text-anchor="middle" stroke="#000" stroke-width="0.35" >Temperature (K)</text>
<text transform="translate(399 436.6) rotate(-90) scale(1 1.03)" font-size="23.0" text-anchor="middle" stroke="#000" stroke-width="0.35" ><tspan font-style="italic">PF</tspan> (<tspan font-family='"Liberation Serif", "DejaVu Serif", serif' font-size="23" stroke-width="0.15">&#956;</tspan>W cm<tspan font-size="15.2" dy="-8.5">-1</tspan><tspan dy="8.5"> K</tspan><tspan font-size="15.2" dy="-8.5">-2</tspan><tspan dy="8.5">)</tspan></text>
<text transform="translate(369.8 320.9) scale(1 1.03)" font-size="28.8" font-weight="bold" stroke="#000" stroke-width="0.35" >d</text>
<path d="M460.6 502.9 L461.83 502.43 L463.08 501.95 L464.34 501.47 L465.65 500.97 L467 500.45 L468.41 499.9 L469.9 499.33 L471.46 498.72 L473.13 498.07 L474.9 497.38 L476.79 496.65 L478.79 495.86 L480.88 495.05 L483.07 494.21 L485.33 493.34 L487.66 492.47 L490.05 491.58 L492.48 490.7 L494.95 489.83 L497.45 488.97 L499.96 488.13 L502.49 487.3 L505.02 486.5 L507.57 485.69 L510.11 484.9 L512.67 484.1 L515.22 483.3 L517.77 482.49 L520.32 481.66 L522.87 480.82 L525.4 479.95 L527.93 479.06 L530.45 478.15 L532.96 477.22 L535.46 476.26 L537.95 475.28 L540.43 474.29 L542.91 473.27 L545.37 472.23 L547.82 471.17 L550.26 470.09 L552.69 469 L555.12 467.93 L557.55 466.87 L559.98 465.85 L562.43 464.87 L564.88 463.96 L567.35 463.12 L569.84 462.37 L572.35 461.72 L574.89 461.18 L577.45 460.73 L580.02 460.37 L582.61 460.07 L585.21 459.81 L587.81 459.58 L590.4 459.35 L592.99 459.12 L595.56 458.86 L598.12 458.55 L600.65 458.18 L603.16 457.75 L605.66 457.26 L608.14 456.71 L610.61 456.09 L613.07 455.41 L615.52 454.66 L617.96 453.85 L620.41 452.98 L622.85 452.05 L625.3 451.05 L627.75 450 L630.2 448.9 L632.65 447.75 L635.11 446.57 L637.56 445.35 L640.02 444.11 L642.48 442.85 L644.94 441.58 L647.4 440.3" fill="none" stroke="#d3f0df" stroke-width="1.0"/>
<rect x="457.8" y="500.1" width="5.6" height="5.6" fill="#fff" stroke="#d3f0df" stroke-width="1"/>
<rect x="457.8" y="500.1" width="5.6" height="2.8" fill="#d3f0df"/>
<rect x="470.1" y="495.4" width="5.6" height="5.6" fill="#fff" stroke="#d3f0df" stroke-width="1"/>
<rect x="470.1" y="495.4" width="5.6" height="2.8" fill="#d3f0df"/>
<rect x="494.4" y="485.8" width="5.6" height="5.6" fill="#fff" stroke="#d3f0df" stroke-width="1"/>
<rect x="494.4" y="485.8" width="5.6" height="2.8" fill="#d3f0df"/>
<rect x="520.2" y="478.4" width="5.6" height="5.6" fill="#fff" stroke="#d3f0df" stroke-width="1"/>
<rect x="520.2" y="478.4" width="5.6" height="2.8" fill="#d3f0df"/>
<rect x="545.2" y="468.7" width="5.6" height="5.6" fill="#fff" stroke="#d3f0df" stroke-width="1"/>
<rect x="545.2" y="468.7" width="5.6" height="2.8" fill="#d3f0df"/>
<rect x="569.1" y="457" width="5.6" height="5.6" fill="#fff" stroke="#d3f0df" stroke-width="1"/>
<rect x="569.1" y="457" width="5.6" height="2.8" fill="#d3f0df"/>
<rect x="595.7" y="456.8" width="5.6" height="5.6" fill="#fff" stroke="#d3f0df" stroke-width="1"/>
<rect x="595.7" y="456.8" width="5.6" height="2.8" fill="#d3f0df"/>
<rect x="620" y="450.3" width="5.6" height="5.6" fill="#fff" stroke="#d3f0df" stroke-width="1"/>
<rect x="620" y="450.3" width="5.6" height="2.8" fill="#d3f0df"/>
<rect x="644.6" y="437.5" width="5.6" height="5.6" fill="#fff" stroke="#d3f0df" stroke-width="1"/>
<rect x="644.6" y="437.5" width="5.6" height="2.8" fill="#d3f0df"/>
<path d="M465.7 507.5 L466.46 507.38 L467.24 507.24 L468.05 507.08 L468.91 506.88 L469.83 506.63 L470.84 506.32 L471.93 505.93 L473.15 505.45 L474.48 504.86 L475.97 504.17 L477.6 503.34 L479.39 502.4 L481.29 501.34 L483.32 500.18 L485.43 498.93 L487.63 497.58 L489.89 496.15 L492.2 494.64 L494.54 493.07 L496.9 491.43 L499.26 489.75 L501.62 488.04 L503.99 486.32 L506.36 484.61 L508.74 482.93 L511.13 481.31 L513.53 479.76 L515.94 478.32 L518.37 476.99 L520.82 475.8 L523.28 474.77 L525.76 473.86 L528.26 473.04 L530.77 472.28 L533.3 471.55 L535.83 470.8 L538.38 470.01 L540.94 469.13 L543.5 468.14 L546.07 467 L548.64 465.68 L551.21 464.2 L553.79 462.58 L556.36 460.85 L558.93 459.03 L561.5 457.15 L564.06 455.23 L566.61 453.29 L569.15 451.36 L571.68 449.47 L574.2 447.63 L576.71 445.86 L579.21 444.18 L581.69 442.6 L584.17 441.14 L586.65 439.8 L589.11 438.61 L591.58 437.57 L594.04 436.71 L596.5 436.03 L598.96 435.55 L601.42 435.24 L603.88 435.08 L606.35 435.05 L608.82 435.12 L611.29 435.26 L613.77 435.46 L616.25 435.69 L618.74 435.91 L621.23 436.12 L623.74 436.28 L626.25 436.4 L628.77 436.48 L631.29 436.53 L633.82 436.55 L636.35 436.55 L638.88 436.53 L641.42 436.49 L643.96 436.45 L646.5 436.4" fill="none" stroke="#3f8a8a" stroke-width="1.0"/>
<path d="M462.7 503.4 L470.1 507.5 L462.7 511.6 Z" fill="#fff" stroke="#3f8a8a" stroke-width="0.9"/>
<path d="M465 504.67 L470.1 507.5 L465 510.33 Z" fill="#3f8a8a"/>
<path d="M470.3 502.2 L477.7 506.3 L470.3 510.4 Z" fill="#fff" stroke="#3f8a8a" stroke-width="0.9"/>
<path d="M472.6 503.47 L477.7 506.3 L472.6 509.13 Z" fill="#3f8a8a"/>
<path d="M493.9 488.2 L501.3 492.3 L493.9 496.4 Z" fill="#fff" stroke="#3f8a8a" stroke-width="0.9"/>
<path d="M496.2 489.47 L501.3 492.3 L496.2 495.13 Z" fill="#3f8a8a"/>
<path d="M517.5 469 L524.9 473.1 L517.5 477.2 Z" fill="#fff" stroke="#3f8a8a" stroke-width="0.9"/>
<path d="M519.8 470.27 L524.9 473.1 L519.8 475.93 Z" fill="#3f8a8a"/>
<path d="M543 466 L550.4 470.1 L543 474.2 Z" fill="#fff" stroke="#3f8a8a" stroke-width="0.9"/>
<path d="M545.3 467.27 L550.4 470.1 L545.3 472.93 Z" fill="#3f8a8a"/>
<path d="M568.9 444.4 L576.3 448.5 L568.9 452.6 Z" fill="#fff" stroke="#3f8a8a" stroke-width="0.9"/>
<path d="M571.2 445.67 L576.3 448.5 L571.2 451.33 Z" fill="#3f8a8a"/>
<path d="M593.5 428.6 L600.9 432.7 L593.5 436.8 Z" fill="#fff" stroke="#3f8a8a" stroke-width="0.9"/>
<path d="M595.8 429.87 L600.9 432.7 L595.8 435.53 Z" fill="#3f8a8a"/>
<path d="M618.1 432.8 L625.5 436.9 L618.1 441 Z" fill="#fff" stroke="#3f8a8a" stroke-width="0.9"/>
<path d="M620.4 434.07 L625.5 436.9 L620.4 439.73 Z" fill="#3f8a8a"/>
<path d="M643.5 432.3 L650.9 436.4 L643.5 440.5 Z" fill="#fff" stroke="#3f8a8a" stroke-width="0.9"/>
<path d="M645.8 433.57 L650.9 436.4 L645.8 439.23 Z" fill="#3f8a8a"/>
<path d="M460.6 514.7 L461.74 514.38 L462.9 514.06 L464.08 513.74 L465.31 513.41 L466.58 513.08 L467.93 512.74 L469.36 512.4 L470.88 512.05 L472.51 511.69 L474.27 511.32 L476.15 510.94 L478.16 510.55 L480.28 510.15 L482.48 509.74 L484.77 509.33 L487.13 508.92 L489.53 508.5 L491.98 508.08 L494.44 507.67 L496.92 507.25 L499.39 506.84 L501.86 506.42 L504.32 506 L506.78 505.58 L509.24 505.14 L511.69 504.69 L514.15 504.22 L516.6 503.74 L519.05 503.22 L521.5 502.68 L523.95 502.11 L526.4 501.52 L528.85 500.92 L531.31 500.3 L533.77 499.69 L536.23 499.09 L538.7 498.51 L541.18 497.95 L543.66 497.43 L546.15 496.95 L548.65 496.52 L551.16 496.14 L553.67 495.81 L556.18 495.54 L558.7 495.31 L561.21 495.13 L563.72 495.01 L566.23 494.93 L568.73 494.91 L571.22 494.93 L573.7 495.01 L576.17 495.13 L578.63 495.29 L581.09 495.49 L583.54 495.72 L586 495.99 L588.45 496.27 L590.91 496.58 L593.37 496.91 L595.83 497.25 L598.31 497.6 L600.79 497.94 L603.28 498.27 L605.77 498.56 L608.27 498.82 L610.78 499.02 L613.29 499.15 L615.81 499.2 L618.33 499.15 L620.85 499 L623.38 498.73 L625.91 498.36 L628.44 497.88 L630.97 497.33 L633.51 496.7 L636.04 496.01 L638.58 495.28 L641.12 494.5 L643.66 493.71 L646.2 492.9" fill="none" stroke="#b5e7d0" stroke-width="1.0"/>
<circle cx="460.6" cy="514.7" r="3.5" fill="#fff" fill-opacity="0.6" stroke="#b5e7d0" stroke-width="1.1"/>
<circle cx="472" cy="511.5" r="3.5" fill="#fff" fill-opacity="0.6" stroke="#b5e7d0" stroke-width="1.1"/>
<circle cx="497" cy="507.2" r="3.5" fill="#fff" fill-opacity="0.6" stroke="#b5e7d0" stroke-width="1.1"/>
<circle cx="521.5" cy="503.2" r="3.5" fill="#fff" fill-opacity="0.6" stroke="#b5e7d0" stroke-width="1.1"/>
<circle cx="546" cy="496.1" r="3.5" fill="#fff" fill-opacity="0.6" stroke="#b5e7d0" stroke-width="1.1"/>
<circle cx="571.4" cy="494.1" r="3.5" fill="#fff" fill-opacity="0.6" stroke="#b5e7d0" stroke-width="1.1"/>
<circle cx="595.7" cy="497.1" r="3.5" fill="#fff" fill-opacity="0.6" stroke="#b5e7d0" stroke-width="1.1"/>
<circle cx="620.8" cy="501" r="3.5" fill="#fff" fill-opacity="0.6" stroke="#b5e7d0" stroke-width="1.1"/>
<circle cx="646.2" cy="492.9" r="3.5" fill="#fff" fill-opacity="0.6" stroke="#b5e7d0" stroke-width="1.1"/>
<path d="M460.5 508.5 L461.65 508.4 L462.82 508.3 L464.01 508.19 L465.24 508.09 L466.52 507.98 L467.87 507.86 L469.29 507.73 L470.81 507.6 L472.43 507.45 L474.17 507.3 L476.03 507.13 L478.01 506.95 L480.09 506.76 L482.27 506.54 L484.53 506.31 L486.85 506.05 L489.23 505.77 L491.64 505.47 L494.09 505.13 L496.55 504.77 L499.02 504.37 L501.49 503.95 L503.96 503.51 L506.43 503.05 L508.91 502.58 L511.39 502.11 L513.88 501.64 L516.37 501.17 L518.86 500.72 L521.35 500.28 L523.85 499.87 L526.35 499.49 L528.85 499.14 L531.35 498.82 L533.85 498.56 L536.36 498.34 L538.87 498.18 L541.37 498.08 L543.88 498.05 L546.38 498.08 L548.89 498.19 L551.39 498.36 L553.89 498.57 L556.39 498.8 L558.89 499.02 L561.38 499.23 L563.88 499.4 L566.37 499.52 L568.85 499.56 L571.33 499.5 L573.81 499.34 L576.29 499.07 L578.76 498.72 L581.23 498.29 L583.71 497.8 L586.18 497.26 L588.66 496.69 L591.15 496.09 L593.64 495.48 L596.13 494.88 L598.64 494.3 L601.15 493.73 L603.66 493.19 L606.18 492.68 L608.7 492.21 L611.23 491.77 L613.75 491.37 L616.27 491.03 L618.79 490.73 L621.3 490.48 L623.81 490.3 L626.31 490.16 L628.81 490.08 L631.3 490.03 L633.79 490.02 L636.27 490.04 L638.76 490.09 L641.24 490.15 L643.72 490.22 L646.2 490.3" fill="none" stroke="#a3dec8" stroke-width="1.0"/>
<path d="M460.5 504.7 L464.4 511.45 L456.6 511.45 Z" fill="#fff" fill-opacity="0.6" stroke="#a3dec8" stroke-width="0.9"/>
<path d="M472 503.7 L475.9 510.45 L468.1 510.45 Z" fill="#fff" fill-opacity="0.6" stroke="#a3dec8" stroke-width="0.9"/>
<path d="M496.5 501.5 L500.4 508.25 L492.6 508.25 Z" fill="#fff" fill-opacity="0.6" stroke="#a3dec8" stroke-width="0.9"/>
<path d="M521.3 496.1 L525.2 502.85 L517.4 502.85 Z" fill="#fff" fill-opacity="0.6" stroke="#a3dec8" stroke-width="0.9"/>
<path d="M546.4 493 L550.3 499.75 L542.5 499.75 Z" fill="#fff" fill-opacity="0.6" stroke="#a3dec8" stroke-width="0.9"/>
<path d="M571.4 497.6 L575.3 504.35 L567.5 504.35 Z" fill="#fff" fill-opacity="0.6" stroke="#a3dec8" stroke-width="0.9"/>
<path d="M596 490.8 L599.9 497.55 L592.1 497.55 Z" fill="#fff" fill-opacity="0.6" stroke="#a3dec8" stroke-width="0.9"/>
<path d="M621.4 485.7 L625.3 492.45 L617.5 492.45 Z" fill="#fff" fill-opacity="0.6" stroke="#a3dec8" stroke-width="0.9"/>
<path d="M646.2 486.5 L650.1 493.25 L642.3 493.25 Z" fill="#fff" fill-opacity="0.6" stroke="#a3dec8" stroke-width="0.9"/>
<path d="M467.5 518.6 L468.27 518.34 L469.06 518.08 L469.87 517.8 L470.73 517.52 L471.65 517.22 L472.63 516.91 L473.71 516.57 L474.88 516.2 L476.17 515.81 L477.58 515.38 L479.14 514.92 L480.82 514.42 L482.63 513.9 L484.54 513.35 L486.54 512.78 L488.63 512.19 L490.78 511.58 L493 510.97 L495.26 510.35 L497.55 509.73 L499.87 509.11 L502.2 508.5 L504.56 507.9 L506.93 507.3 L509.32 506.72 L511.73 506.16 L514.15 505.62 L516.59 505.1 L519.05 504.61 L521.52 504.15 L524 503.72 L526.49 503.3 L528.99 502.89 L531.5 502.45 L534.01 501.99 L536.53 501.47 L539.05 500.88 L541.56 500.2 L544.08 499.43 L546.58 498.53 L549.08 497.51 L551.58 496.37 L554.07 495.12 L556.55 493.8 L559.03 492.42 L561.5 490.99 L563.96 489.54 L566.42 488.08 L568.88 486.63 L571.33 485.22 L573.78 483.85 L576.23 482.53 L578.67 481.28 L581.1 480.09 L583.54 478.98 L585.96 477.95 L588.39 477.01 L590.81 476.15 L593.23 475.4 L595.65 474.75 L598.06 474.21 L600.48 473.77 L602.89 473.42 L605.3 473.15 L607.71 472.96 L610.12 472.83 L612.53 472.74 L614.95 472.71 L617.37 472.7 L619.8 472.72 L622.23 472.75 L624.67 472.79 L627.11 472.84 L629.56 472.91 L632.01 472.98 L634.47 473.05 L636.92 473.14 L639.38 473.22 L641.84 473.31 L644.3 473.4" fill="none" stroke="#8ccdb8" stroke-width="1.0"/>
<path d="M467.5 523.7 L463.6 516.95 L471.4 516.95 Z M465.2 518.8 h4.6" fill="#fff" fill-opacity="0.6" stroke="#8ccdb8" stroke-width="0.9"/>
<path d="M475.2 521.1 L471.3 514.35 L479.1 514.35 Z M472.9 516.2 h4.6" fill="#fff" fill-opacity="0.6" stroke="#8ccdb8" stroke-width="0.9"/>
<path d="M497.2 514.8 L493.3 508.05 L501.1 508.05 Z M494.9 509.9 h4.6" fill="#fff" fill-opacity="0.6" stroke="#8ccdb8" stroke-width="0.9"/>
<path d="M521.3 508.7 L517.4 501.95 L525.2 501.95 Z M519 503.8 h4.6" fill="#fff" fill-opacity="0.6" stroke="#8ccdb8" stroke-width="0.9"/>
<path d="M546.7 505.9 L542.8 499.15 L550.6 499.15 Z M544.4 501 h4.6" fill="#fff" fill-opacity="0.6" stroke="#8ccdb8" stroke-width="0.9"/>
<path d="M571.4 489.5 L567.5 482.75 L575.3 482.75 Z M569.1 484.6 h4.6" fill="#fff" fill-opacity="0.6" stroke="#8ccdb8" stroke-width="0.9"/>
<path d="M595.7 478 L591.8 471.25 L599.6 471.25 Z M593.4 473.1 h4.6" fill="#fff" fill-opacity="0.6" stroke="#8ccdb8" stroke-width="0.9"/>
<path d="M619.7 477.6 L615.8 470.85 L623.6 470.85 Z M617.4 472.7 h4.6" fill="#fff" fill-opacity="0.6" stroke="#8ccdb8" stroke-width="0.9"/>
<path d="M644.3 478.5 L640.4 471.75 L648.2 471.75 Z M642 473.6 h4.6" fill="#fff" fill-opacity="0.6" stroke="#8ccdb8" stroke-width="0.9"/>
<path d="M457.6 526.2 L459.02 526.16 L460.45 526.11 L461.91 526.03 L463.4 525.93 L464.93 525.79 L466.51 525.59 L468.16 525.33 L469.89 525 L471.7 524.59 L473.62 524.08 L475.63 523.48 L477.75 522.79 L479.95 522.04 L482.22 521.23 L484.56 520.39 L486.95 519.54 L489.38 518.7 L491.83 517.87 L494.31 517.09 L496.78 516.37 L499.26 515.71 L501.72 515.12 L504.18 514.58 L506.65 514.08 L509.11 513.61 L511.57 513.15 L514.03 512.7 L516.5 512.23 L518.98 511.74 L521.47 511.22 L523.96 510.65 L526.47 510.04 L528.98 509.39 L531.49 508.72 L534.02 508.02 L536.54 507.3 L539.07 506.56 L541.6 505.81 L544.14 505.06 L546.67 504.32 L549.2 503.57 L551.72 502.82 L554.25 502.05 L556.77 501.25 L559.28 500.4 L561.8 499.49 L564.3 498.51 L566.81 497.44 L569.31 496.27 L571.8 494.98 L574.29 493.58 L576.77 492.06 L579.25 490.44 L581.74 488.73 L584.22 486.95 L586.71 485.11 L589.21 483.22 L591.72 481.29 L594.25 479.35 L596.78 477.4 L599.34 475.45 L601.91 473.51 L604.49 471.57 L607.08 469.64 L609.69 467.71 L612.3 465.79 L614.92 463.86 L617.54 461.94 L620.17 460.02 L622.8 458.1" fill="none" stroke="#5ea9a2" stroke-width="1.0"/>
<path d="M457.6 521.7 L462.1 526.2 L457.6 530.7 L453.1 526.2 Z M454.1 526.2 h7 M457.6 522.7 v7" fill="#fff" fill-opacity="0.6" stroke="#5ea9a2" stroke-width="0.9"/>
<path d="M471.8 521.3 L476.3 525.8 L471.8 530.3 L467.3 525.8 Z M468.3 525.8 h7 M471.8 522.3 v7" fill="#fff" fill-opacity="0.6" stroke="#5ea9a2" stroke-width="0.9"/>
<path d="M496.9 510.6 L501.4 515.1 L496.9 519.6 L492.4 515.1 Z M493.4 515.1 h7 M496.9 511.6 v7" fill="#fff" fill-opacity="0.6" stroke="#5ea9a2" stroke-width="0.9"/>
<path d="M521.3 507.5 L525.8 512 L521.3 516.5 L516.8 512 Z M517.8 512 h7 M521.3 508.5 v7" fill="#fff" fill-opacity="0.6" stroke="#5ea9a2" stroke-width="0.9"/>
<path d="M546.7 499.7 L551.2 504.2 L546.7 508.7 L542.2 504.2 Z M543.2 504.2 h7 M546.7 500.7 v7" fill="#fff" fill-opacity="0.6" stroke="#5ea9a2" stroke-width="0.9"/>
<path d="M571.9 492.6 L576.4 497.1 L571.9 501.6 L567.4 497.1 Z M568.4 497.1 h7 M571.9 493.6 v7" fill="#fff" fill-opacity="0.6" stroke="#5ea9a2" stroke-width="0.9"/>
<path d="M596.5 472.8 L601 477.3 L596.5 481.8 L592 477.3 Z M593 477.3 h7 M596.5 473.8 v7" fill="#fff" fill-opacity="0.6" stroke="#5ea9a2" stroke-width="0.9"/>
<path d="M622.8 453.6 L627.3 458.1 L622.8 462.6 L618.3 458.1 Z M619.3 458.1 h7 M622.8 454.6 v7" fill="#fff" fill-opacity="0.6" stroke="#5ea9a2" stroke-width="0.9"/>
<path d="M461.3 508 L462.33 507.42 L463.38 506.84 L464.46 506.26 L465.58 505.68 L466.75 505.1 L468.01 504.52 L469.34 503.94 L470.79 503.36 L472.34 502.78 L474.03 502.2 L475.86 501.62 L477.83 501.03 L479.9 500.44 L482.08 499.82 L484.35 499.19 L486.69 498.53 L489.09 497.84 L491.53 497.11 L494 496.34 L496.48 495.52 L498.97 494.65 L501.45 493.73 L503.94 492.79 L506.42 491.82 L508.9 490.84 L511.39 489.86 L513.88 488.89 L516.37 487.94 L518.86 487.02 L521.35 486.13 L523.85 485.3 L526.34 484.51 L528.84 483.75 L531.34 483.03 L533.84 482.34 L536.34 481.67 L538.83 481.02 L541.32 480.38 L543.81 479.74 L546.28 479.1 L548.76 478.46 L551.22 477.81 L553.68 477.16 L556.14 476.51 L558.6 475.86 L561.05 475.22 L563.51 474.58 L565.96 473.95 L568.42 473.33 L570.88 472.72 L573.35 472.12 L575.82 471.54 L578.3 470.97 L580.78 470.43 L583.26 469.92 L585.75 469.43 L588.24 468.98 L590.74 468.56 L593.23 468.17 L595.73 467.83 L598.23 467.53 L600.74 467.28 L603.24 467.05 L605.74 466.86 L608.24 466.69 L610.74 466.54 L613.23 466.41 L615.72 466.29 L618.2 466.18 L620.68 466.07 L623.15 465.96 L625.62 465.84 L628.08 465.73 L630.53 465.61 L632.99 465.5 L635.43 465.38 L637.88 465.26 L640.32 465.14 L642.76 465.02 L645.2 464.9" fill="none" stroke="#37676b" stroke-width="1.15"/>
<path d="M461.3 504 L464.76 506 L464.76 510 L461.3 512 L457.84 510 L457.84 506 Z M457.9 508 h6.8" fill="#fff" fill-opacity="0.85" stroke="#37676b" stroke-width="1.05" stroke-linejoin="round"/>
<path d="M471.6 498.2 L475.06 500.2 L475.06 504.2 L471.6 506.2 L468.14 504.2 L468.14 500.2 Z M468.2 502.2 h6.8" fill="#fff" fill-opacity="0.85" stroke="#37676b" stroke-width="1.05" stroke-linejoin="round"/>
<path d="M496.5 492.4 L499.96 494.4 L499.96 498.4 L496.5 500.4 L493.04 498.4 L493.04 494.4 Z M493.1 496.4 h6.8" fill="#fff" fill-opacity="0.85" stroke="#37676b" stroke-width="1.05" stroke-linejoin="round"/>
<path d="M521.3 481.3 L524.76 483.3 L524.76 487.3 L521.3 489.3 L517.84 487.3 L517.84 483.3 Z M517.9 485.3 h6.8" fill="#fff" fill-opacity="0.85" stroke="#37676b" stroke-width="1.05" stroke-linejoin="round"/>
<path d="M546.4 475.2 L549.86 477.2 L549.86 481.2 L546.4 483.2 L542.94 481.2 L542.94 477.2 Z M543 479.2 h6.8" fill="#fff" fill-opacity="0.85" stroke="#37676b" stroke-width="1.05" stroke-linejoin="round"/>
<path d="M570.8 468.5 L574.26 470.5 L574.26 474.5 L570.8 476.5 L567.34 474.5 L567.34 470.5 Z M567.4 472.5 h6.8" fill="#fff" fill-opacity="0.85" stroke="#37676b" stroke-width="1.05" stroke-linejoin="round"/>
<path d="M595.7 463.1 L599.16 465.1 L599.16 469.1 L595.7 471.1 L592.24 469.1 L592.24 465.1 Z M592.3 467.1 h6.8" fill="#fff" fill-opacity="0.85" stroke="#37676b" stroke-width="1.05" stroke-linejoin="round"/>
<path d="M620.8 462.1 L624.26 464.1 L624.26 468.1 L620.8 470.1 L617.34 468.1 L617.34 464.1 Z M617.4 466.1 h6.8" fill="#fff" fill-opacity="0.85" stroke="#37676b" stroke-width="1.05" stroke-linejoin="round"/>
<path d="M645.2 460.9 L648.66 462.9 L648.66 466.9 L645.2 468.9 L641.74 466.9 L641.74 462.9 Z M641.8 464.9 h6.8" fill="#fff" fill-opacity="0.85" stroke="#37676b" stroke-width="1.05" stroke-linejoin="round"/>
<path d="M458.1 492.7 L459.47 492.15 L460.86 491.6 L462.27 491.04 L463.72 490.47 L465.21 489.9 L466.78 489.31 L468.42 488.71 L470.14 488.09 L471.97 487.45 L473.92 486.78 L475.98 486.1 L478.16 485.39 L480.44 484.67 L482.81 483.95 L485.24 483.23 L487.74 482.51 L490.28 481.81 L492.85 481.13 L495.44 480.47 L498.03 479.85 L500.62 479.26 L503.2 478.71 L505.77 478.18 L508.33 477.68 L510.9 477.19 L513.46 476.71 L516.02 476.23 L518.59 475.75 L521.16 475.27 L523.73 474.77 L526.32 474.25 L528.91 473.71 L531.5 473.15 L534.09 472.58 L536.68 472 L539.26 471.4 L541.84 470.79 L544.41 470.17 L546.96 469.55 L549.5 468.92 L552.02 468.28 L554.53 467.64 L557.02 467.01 L559.5 466.39 L561.98 465.78 L564.45 465.19 L566.92 464.63 L569.39 464.09 L571.86 463.59 L574.33 463.13 L576.82 462.71 L579.31 462.33 L581.8 461.99 L584.29 461.67 L586.78 461.38 L589.26 461.11 L591.74 460.86 L594.21 460.61 L596.66 460.37 L599.1 460.13 L601.52 459.89 L603.93 459.65 L606.32 459.42 L608.71 459.19 L611.09 458.98 L613.46 458.79 L615.84 458.62 L618.22 458.49 L620.61 458.38 L623 458.32 L625.41 458.29 L627.82 458.31 L630.25 458.36 L632.68 458.43 L635.12 458.54 L637.57 458.67 L640.03 458.81 L642.48 458.97 L644.94 459.13 L647.4 459.3" fill="none" stroke="#37676b" stroke-width="1.15"/>
<path d="M458.1 488.5 L462.09 491.4 L460.57 496.1 L455.63 496.1 L454.11 491.4 Z M458.1 488.5 v7.6" fill="#fff" fill-opacity="0.85" stroke="#37676b" stroke-width="1.05" stroke-linejoin="round"/>
<path d="M471.8 483 L475.79 485.9 L474.27 490.6 L469.33 490.6 L467.81 485.9 Z M471.8 483 v7.6" fill="#fff" fill-opacity="0.85" stroke="#37676b" stroke-width="1.05" stroke-linejoin="round"/>
<path d="M498.2 475 L502.19 477.9 L500.67 482.6 L495.73 482.6 L494.21 477.9 Z M498.2 475 v7.6" fill="#fff" fill-opacity="0.85" stroke="#37676b" stroke-width="1.05" stroke-linejoin="round"/>
<path d="M523.6 470.9 L527.59 473.8 L526.07 478.5 L521.13 478.5 L519.61 473.8 Z M523.6 470.9 v7.6" fill="#fff" fill-opacity="0.85" stroke="#37676b" stroke-width="1.05" stroke-linejoin="round"/>
<path d="M549.8 464.8 L553.79 467.7 L552.27 472.4 L547.33 472.4 L545.81 467.7 Z M549.8 464.8 v7.6" fill="#fff" fill-opacity="0.85" stroke="#37676b" stroke-width="1.05" stroke-linejoin="round"/>
<path d="M574.2 458.2 L578.19 461.1 L576.67 465.8 L571.73 465.8 L570.21 461.1 Z M574.2 458.2 v7.6" fill="#fff" fill-opacity="0.85" stroke="#37676b" stroke-width="1.05" stroke-linejoin="round"/>
<path d="M599.4 456 L603.39 458.9 L601.87 463.6 L596.93 463.6 L595.41 458.9 Z M599.4 456 v7.6" fill="#fff" fill-opacity="0.85" stroke="#37676b" stroke-width="1.05" stroke-linejoin="round"/>
<path d="M622.8 453.4 L626.79 456.3 L625.27 461 L620.33 461 L618.81 456.3 Z M622.8 453.4 v7.6" fill="#fff" fill-opacity="0.85" stroke="#37676b" stroke-width="1.05" stroke-linejoin="round"/>
<path d="M647.4 455.1 L651.39 458 L649.87 462.7 L644.93 462.7 L643.41 458 Z M647.4 455.1 v7.6" fill="#fff" fill-opacity="0.85" stroke="#37676b" stroke-width="1.05" stroke-linejoin="round"/>
<path d="M460.2 448.72 L463.87 447.52 L467.52 446.32 L471.16 445.13 L474.75 443.95 L478.3 442.79 L481.8 441.65 L485.22 440.54 L488.55 439.45 L491.8 438.4 L494.93 437.38 L497.96 436.41 L500.87 435.46 L503.69 434.53 L506.43 433.6 L509.1 432.66 L511.7 431.7 L514.26 430.7 L516.78 429.66 L519.27 428.55 L521.75 427.37 L524.22 426.1 L526.7 424.8 L529.17 423.49 L531.63 422.23 L534.1 421.05 L536.57 420.01 L539.05 419.14 L541.52 418.49 L544 418.1 L546.48 418.02 L548.97 418.27 L551.46 418.81 L553.96 419.57 L556.46 420.49 L558.96 421.51 L561.46 422.55 L563.96 423.56 L566.46 424.48 L568.97 425.24 L571.47 425.77 L573.97 426.02 L576.46 426.03 L578.96 425.8 L581.45 425.38 L583.94 424.81 L586.43 424.1 L588.92 423.29 L591.41 422.42 L593.9 421.51 L596.38 420.61 L598.87 419.72 L601.35 418.87 L603.84 418.06 L606.32 417.29 L608.8 416.57 L611.29 415.89 L613.78 415.27 L616.27 414.7 L618.76 414.2 L621.25 413.76 L623.75 413.39 L626.25 413.08 L628.75 412.82 L631.25 412.61 L633.76 412.45 L636.26 412.32 L638.77 412.21 L641.28 412.13 L643.79 412.06 L646.3 412" fill="none" stroke="#b71e38" stroke-width="1.25"/>
<circle cx="460.2" cy="448.72" r="5.05" fill="url(#sph)"/>
<circle cx="496.9" cy="436.69" r="5.05" fill="url(#sph)"/>
<circle cx="521.8" cy="428.83" r="5.05" fill="url(#sph)"/>
<circle cx="546.4" cy="412.17" r="5.05" fill="url(#sph)"/>
<circle cx="571.5" cy="430.58" r="5.05" fill="url(#sph)"/>
<circle cx="596.4" cy="420.11" r="5.05" fill="url(#sph)"/>
<circle cx="621.2" cy="412.61" r="5.05" fill="url(#sph)"/>
<circle cx="646.3" cy="412" r="5.05" fill="url(#sph)"/>
<line x1="439" y1="334.8" x2="455.5" y2="334.8" stroke="#d3f0df" stroke-width="1.0" />
<rect x="444.5" y="332" width="5.6" height="5.6" fill="#fff" stroke="#d3f0df" stroke-width="1"/>
<rect x="444.5" y="332" width="5.6" height="2.8" fill="#d3f0df"/>
<text transform="translate(458.2 337.8) scale(1 1.18)" font-size="7.35" fill="#222" stroke="#222" stroke-width="0.21" >(Ge<tspan font-size="5.0" dy="2">0.95</tspan><tspan dy="-2">Pb</tspan><tspan font-size="5.0" dy="2">0.05</tspan><tspan dy="-2">Se)</tspan><tspan font-size="5.0" dy="2">0.9</tspan><tspan dy="-2">(Sb</tspan><tspan font-size="5.0" dy="2">2</tspan><tspan dy="-2">Te</tspan><tspan font-size="5.0" dy="2">3</tspan><tspan dy="-2">)</tspan><tspan font-size="5.0" dy="2">0.1</tspan></text>
<line x1="439" y1="349.3" x2="455.5" y2="349.3" stroke="#b5e7d0" stroke-width="1.0" />
<circle cx="447.3" cy="349.3" r="3.5" fill="#fff" fill-opacity="0.6" stroke="#b5e7d0" stroke-width="1.1"/>
<text transform="translate(458.2 352.3) scale(1 1.18)" font-size="7.35" fill="#222" stroke="#222" stroke-width="0.21" >(Ge<tspan font-size="5.0" dy="2">0.98</tspan><tspan dy="-2">Pb</tspan><tspan font-size="5.0" dy="2">0.02</tspan><tspan dy="-2">Se)</tspan><tspan font-size="5.0" dy="2">0.875</tspan><tspan dy="-2">(AgInTe</tspan><tspan font-size="5.0" dy="2">2</tspan><tspan dy="-2">)</tspan><tspan font-size="5.0" dy="2">0.125</tspan></text>
<line x1="439" y1="363.4" x2="455.5" y2="363.4" stroke="#37676b" stroke-width="1.0" />
<path d="M447.3 359.4 L450.76 361.4 L450.76 365.4 L447.3 367.4 L443.84 365.4 L443.84 361.4 Z M443.9 363.4 h6.8" fill="#fff" fill-opacity="0.85" stroke="#37676b" stroke-width="1.05" stroke-linejoin="round"/>
<text transform="translate(458.2 366.4) scale(1 1.18)" font-size="7.35" fill="#222" stroke="#222" stroke-width="0.21" >Ge<tspan font-size="5.0" dy="2">0.96</tspan><tspan dy="-2">Bi</tspan><tspan font-size="5.0" dy="2">0.04</tspan><tspan dy="-2">Se(MnCdTe</tspan><tspan font-size="5.0" dy="2">2</tspan><tspan dy="-2">)</tspan><tspan font-size="5.0" dy="2">0.10</tspan></text>
<line x1="439" y1="377.1" x2="455.5" y2="377.1" stroke="#8ccdb8" stroke-width="1.0" />
<path d="M447.3 382.2 L443.4 375.45 L451.2 375.45 Z M445 377.3 h4.6" fill="#fff" fill-opacity="0.6" stroke="#8ccdb8" stroke-width="0.9"/>
<text transform="translate(458.2 380.1) scale(1 1.18)" font-size="7.35" fill="#222" stroke="#222" stroke-width="0.21" >GeSe-15%AgSbSe<tspan font-size="5.0" dy="2">2</tspan></text>
<line x1="439" y1="391.3" x2="455.5" y2="391.3" stroke="#5ea9a2" stroke-width="1.0" />
<path d="M447.3 386.8 L451.8 391.3 L447.3 395.8 L442.8 391.3 Z M443.8 391.3 h7 M447.3 387.8 v7" fill="#fff" fill-opacity="0.6" stroke="#5ea9a2" stroke-width="0.9"/>
<text transform="translate(458.2 394.3) scale(1 1.18)" font-size="7.35" fill="#222" stroke="#222" stroke-width="0.21" >(GeSe)<tspan font-size="5.0" dy="2">0.9</tspan><tspan dy="-2">(AgBiTe</tspan><tspan font-size="5.0" dy="2">2</tspan><tspan dy="-2">)</tspan><tspan font-size="5.0" dy="2">0.1</tspan><tspan dy="-2">-1.5mol.%SnSe</tspan></text>
<line x1="439" y1="405.1" x2="455.5" y2="405.1" stroke="#a3dec8" stroke-width="1.0" />
<path d="M447.3 401.3 L451.2 408.05 L443.4 408.05 Z" fill="#fff" fill-opacity="0.6" stroke="#a3dec8" stroke-width="0.9"/>
<text transform="translate(458.2 408.1) scale(1 1.18)" font-size="7.35" fill="#222" stroke="#222" stroke-width="0.21" >Ge<tspan font-size="5.0" dy="2">0.8</tspan><tspan dy="-2">Pb</tspan><tspan font-size="5.0" dy="2">0.2</tspan><tspan dy="-2">Se(CdTe)</tspan><tspan font-size="5.0" dy="2">0.25</tspan></text>
<line x1="572.5" y1="335.2" x2="588.5" y2="335.2" stroke="#37676b" stroke-width="1.0" />
<path d="M580.3 331 L584.29 333.9 L582.77 338.6 L577.83 338.6 L576.31 333.9 Z M580.3 331 v7.6" fill="#fff" fill-opacity="0.85" stroke="#37676b" stroke-width="1.05" stroke-linejoin="round"/>
<text transform="translate(591.6 338.2) scale(1 1.18)" font-size="7.35" fill="#222" stroke="#222" stroke-width="0.21" >(GeSe)<tspan font-size="5.0" dy="2">0.9</tspan><tspan dy="-2">(AgBiTe</tspan><tspan font-size="5.0" dy="2">2</tspan><tspan dy="-2">)</tspan><tspan font-size="5.0" dy="2">0.1</tspan></text>
<line x1="572.5" y1="349" x2="588.5" y2="349" stroke="#3f8a8a" stroke-width="1.0" />
<path d="M577.3 344.9 L584.7 349 L577.3 353.1 Z" fill="#fff" stroke="#3f8a8a" stroke-width="0.9"/>
<path d="M579.6 346.17 L584.7 349 L579.6 351.83 Z" fill="#3f8a8a"/>
<text transform="translate(591.6 352) scale(1 1.18)" font-size="7.35" fill="#222" stroke="#222" stroke-width="0.21" >(Ge<tspan font-size="5.0" dy="2">4</tspan><tspan dy="-2">Se</tspan><tspan font-size="5.0" dy="2">3</tspan><tspan dy="-2">Te)</tspan><tspan font-size="5.0" dy="2">0.52</tspan><tspan dy="-2">(AgBiTe</tspan><tspan font-size="5.0" dy="2">2</tspan><tspan dy="-2">)</tspan><tspan font-size="5.0" dy="2">0.48</tspan></text>
<line x1="572.5" y1="365.8" x2="588.5" y2="365.8" stroke="#b71e38" stroke-width="1.2" />
<circle cx="580.3" cy="365.8" r="5.05" fill="url(#sph)"/>
<text transform="translate(591.6 368.6) scale(1 1.18)" font-size="7.35" fill="#222" stroke="#222" stroke-width="0.21" >(GeMn<tspan font-size="5.0" dy="2">0.005</tspan><tspan dy="-2">Se)</tspan><tspan font-size="5.0" dy="2">0.9</tspan><tspan dy="-2">(AgBiTe</tspan><tspan font-size="5.0" dy="2">2</tspan><tspan dy="-2">)</tspan><tspan font-size="5.0" dy="2">0.1</tspan></text>
<text transform="translate(594.2 380.2) scale(1 1.18)" font-size="7.35" fill="#222" stroke="#222" stroke-width="0.21" >this work</text>
</svg>
</body>
</html>
